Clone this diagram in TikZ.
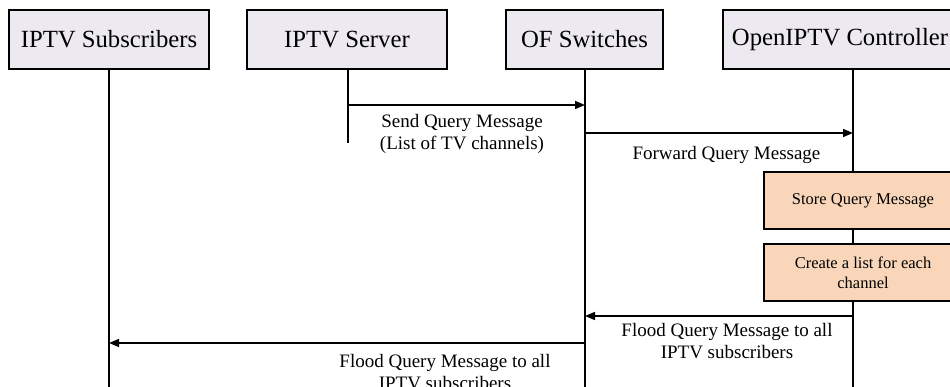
\documentclass[tikz,border=0pt]{standalone}
\usepackage{fontspec}
\setmainfont{Liberation Serif}
\usetikzlibrary{arrows.meta}
\definecolor{headfill}{HTML}{ECE9F1}
\definecolor{stepfill}{HTML}{F9D6B9}
\begin{document}
\begin{tikzpicture}[x=1pt,y=-1pt,
  actor/.style={draw=black, line width=2.8pt, fill=headfill, minimum height=59pt,
    inner sep=0pt, font=\fontsize{24.7}{28}\selectfont},
  lifeline/.style={line width=1.8pt},
  msg/.style={line width=1.6pt, -{Triangle[length=10pt,width=8pt]}},
  msglabel/.style={align=center, inner sep=0pt, font=\fontsize{19}{22.5}\selectfont},
  stepbox/.style={draw=black, line width=1.4pt, fill=stepfill, minimum width=198pt,
    minimum height=57pt, align=center, inner sep=0pt, font=\fontsize{16.5}{20}\selectfont}
]
\useasboundingbox (0,0) rectangle (950,387);
\clip (0,0) rectangle (950,387);

% lifeline ends
\coordinate (s-end) at (109,400);
\coordinate (v-end) at (348,143);
\coordinate (w-end) at (585,400);
\coordinate (c-end) at (853,400);

% lifelines
\draw[lifeline] (109,69) -- (s-end);
\draw[lifeline] (348,69) -- (v-end);
\draw[lifeline] (585,69) -- (w-end);
\draw[lifeline] (853,69) -- (c-end);

% participants
\node[actor, minimum width=200pt] (s) at (109,39.5) {IPTV Subscribers};
\node[actor, minimum width=200pt] (v) at (347,39.5) {IPTV Server};
\node[actor, minimum width=157pt] (w) at (584.5,39.5) {OF Switches};
\node[actor, minimum width=234pt] (c) at (840,39.5) {OpenIPTV Controller};

% message anchor points on the lifelines
\coordinate (v1) at (348,105);
\coordinate (w1) at (585,105);
\coordinate (w2) at (585,133);
\coordinate (c2) at (853,133);
\coordinate (c3) at (853,316);
\coordinate (w3) at (585,316);
\coordinate (w4) at (585,343);
\coordinate (s4) at (109,343);

% messages
\draw[msg] (v1) -- (w1);
\node[msglabel] (l1) at (462,134) {Send Query Message\\(List of TV channels)};

\draw[msg] (w2) -- (c2);
\node[msglabel] (l2) at (726.5,155) {Forward Query Message};

% controller processing steps
\node[stepbox] (p1) at (863,200.5) {Store Query Message};
\node[stepbox] (p2) at (863,272.5) {Create a list for each\\channel};

\draw[msg] (c3) -- (w3);
\node[msglabel] (l3) at (727,341) {Flood Query Message to all\\IPTV subscribers};

\draw[msg] (w4) -- (s4);
\node[msglabel] (l4) at (445,372) {Flood Query Message to all\\IPTV subscribers};
\end{tikzpicture}
\end{document}
